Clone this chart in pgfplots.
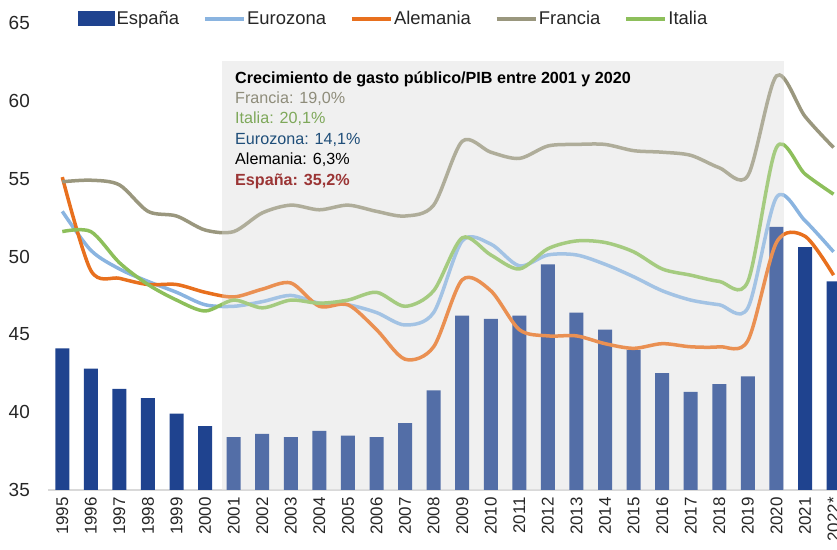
\documentclass[border=0pt]{standalone}
\usepackage{fontspec}
\setmainfont{Liberation Sans}
\usepackage{pgfplots}
\usepackage{pgfplotstable}
\pgfplotsset{compat=1.18}

\definecolor{espana}{HTML}{1F438F}
\definecolor{euro}{HTML}{8AB4E0}
\definecolor{alem}{HTML}{E8701E}
\definecolor{fran}{HTML}{9A977E}
\definecolor{ital}{HTML}{8DBF5B}
\definecolor{fondogris}{HTML}{F0F0F0}
\definecolor{axisgray}{HTML}{D9D9D9}
\definecolor{txtfran}{HTML}{8E8C7A}
\definecolor{txtital}{HTML}{7EA85A}
\definecolor{txteuro}{HTML}{1F4E79}
\definecolor{txtesp}{HTML}{9B3535}

% gasto publico / PIB (%)
\pgfplotstableread{
x  esp   euro  alem  fran  ital
0  44.1  52.9  55.1  54.8  51.6
1  42.8  50.4  49.1  54.9  51.6
2  41.5  49.2  48.6  54.6  49.6
3  40.9  48.4  48.2  52.9  48.2
4  39.9  47.7  48.2  52.6  47.2
5  39.1  46.9  47.7  51.7  46.5
6  38.4  46.8  47.4  51.6  47.2
7  38.6  47.1  47.9  52.8  46.7
8  38.4  47.5  48.3  53.3  47.2
9  38.8  47.0  46.8  53.0  47.0
10 38.5  46.9  46.9  53.3  47.2
11 38.4  46.4  45.3  52.9  47.7
12 39.3  45.6  43.4  52.6  46.8
13 41.4  46.4  44.2  53.3  47.8
14 46.2  51.0  48.5  57.4  51.2
15 46.0  50.8  47.8  56.7  50.1
16 46.2  49.4  45.3  56.3  49.2
17 49.5  50.1  44.9  57.1  50.5
18 46.4  50.1  44.9  57.2  51.0
19 45.3  49.5  44.4  57.2  50.9
20 44.0  48.7  44.1  56.8  50.3
21 42.5  47.8  44.4  56.7  49.2
22 41.3  47.2  44.2  56.5  48.8
23 41.8  46.9  44.2  55.7  48.4
24 42.3  46.7  44.6  55.2  48.4
25 51.9  53.8  50.9  61.6  57.0
26 50.6  52.3  51.3  59.0  55.3
27 48.4  50.3  48.8  57.0  54.0
}\datatable

\begin{document}
\begin{tikzpicture}
\begin{axis}[
  set layers,
  scale only axis,
  width=789bp, height=467bp,
  xmin=-0.5, xmax=27.12,
  ymin=35, ymax=65,
  ytick={35,40,...,65},
  xtick={0,...,27},
  xticklabels={1995,1996,1997,1998,1999,2000,2001,2002,2003,2004,2005,2006,2007,2008,2009,2010,2011,2012,2013,2014,2015,2016,2017,2018,2019,2020,2021,2022*},
  axis x line*=bottom,
  axis y line*=left,
  x axis line style={axisgray, line width=1.2bp},
  y axis line style={draw=none},
  tick style={draw=none},
  major tick length=0pt,
  /pgf/number format/assume math mode=true,
  yticklabel style={anchor=east, inner sep=0pt, font=\fontsize{19}{19}\selectfont, text=black!85},
  yticklabel shift=18bp,
  xticklabel style={rotate=90, anchor=east, inner sep=0pt, font=\fontsize{17}{17}\selectfont, text=black!85},
  xticklabel shift=7bp,
  legend style={at={(0.038,1.0086)}, anchor=west, draw=none, fill=none,
    inner sep=0pt, font=\fontsize{18.5}{18.5}\selectfont,
    nodes={inner sep=1.5bp, text=black!85},
    /tikz/every even column/.append style={column sep=22.5bp}},
  legend columns=5,
  legend cell align=left,
]

\begin{pgfonlayer}{axis background}
  \fill[fondogris] (axis cs:5.59,35) rectangle (axis cs:25.25,62.56);
\end{pgfonlayer}

\addplot[ybar, bar width=14bp, bar shift=0pt, fill=espana, draw=none,
  legend image code/.code={\fill[espana] (0bp,-7.5bp) rectangle (37bp,7.5bp);}]
  table[x=x, y=esp] {\datatable};
\addlegendentry{España}

\addplot[euro, line width=3.5bp, smooth, no marks,
  legend image code/.code={\draw[euro, line width=3.5bp] (0bp,0bp) -- (39bp,0bp);}]
  table[x=x, y=euro] {\datatable};
\addlegendentry{Eurozona}

\addplot[alem, line width=3.5bp, smooth, no marks,
  legend image code/.code={\draw[alem, line width=3.5bp] (0bp,0bp) -- (39bp,0bp);}]
  table[x=x, y=alem] {\datatable};
\addlegendentry{Alemania}

\addplot[fran, line width=3.5bp, smooth, no marks,
  legend image code/.code={\draw[fran, line width=3.5bp] (0bp,0bp) -- (39bp,0bp);}]
  table[x=x, y=fran] {\datatable};
\addlegendentry{Francia}

\addplot[ital, line width=3.5bp, smooth, no marks,
  legend image code/.code={\draw[ital, line width=3.5bp] (0bp,0bp) -- (39bp,0bp);}]
  table[x=x, y=ital] {\datatable};
\addlegendentry{Italia}

% velo gris sobre el periodo 2001-2020
\fill[fondogris, opacity=0.25] (axis cs:5.59,35) rectangle (axis cs:25.25,62.56);

\node[anchor=north west, inner sep=0pt, align=left,
  font=\fontsize{16.2}{20.5}\selectfont]
  at (rel axis cs:0.237,0.897)
  {\textbf{Crecimiento de gasto público/PIB entre 2001 y 2020}\\
   \textcolor{txtfran}{Francia: 19,0\%}\\
   \textcolor{txtital}{Italia: 20,1\%}\\
   \textcolor{txteuro}{Eurozona: 14,1\%}\\
   Alemania: 6,3\%\\
   \textcolor{txtesp}{\textbf{España: 35,2\%}}};
\end{axis}
\pgfresetboundingbox
\path[use as bounding box] (-48bp,-60bp) rectangle (789bp,490bp);
\end{tikzpicture}
\end{document}
